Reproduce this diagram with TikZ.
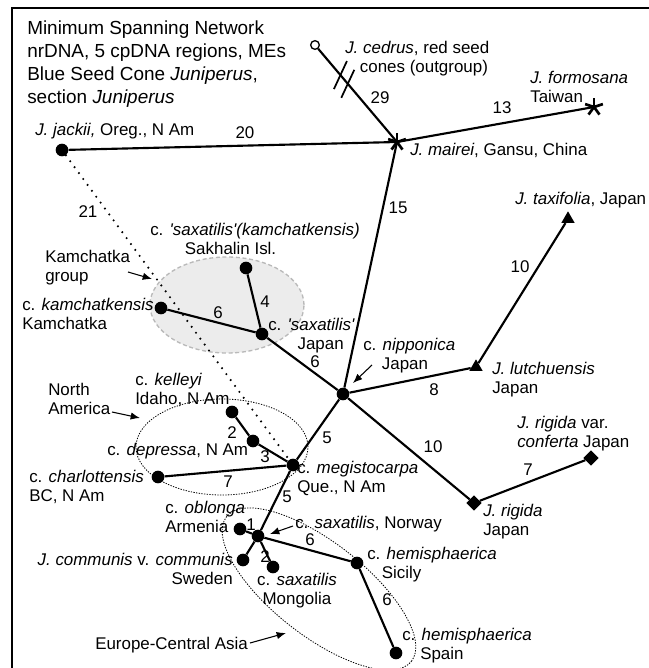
\documentclass[tikz,border=0pt]{standalone}
\usepackage{fontspec}
\setmainfont{Liberation Sans}
\usetikzlibrary{arrows.meta,shapes.geometric,calc}
\begin{document}
\begin{tikzpicture}[x=0.75pt,y=-0.75pt,
  lab/.style={font=\fontsize{12.7}{14.3}\selectfont, inner sep=0pt, align=left, anchor=north west},
  num/.style={font=\fontsize{12.7}{14.3}\selectfont, inner sep=0pt},
  dot/.style={circle, fill=black, inner sep=0pt, minimum size=9.5pt},
  odot/.style={circle, draw=black, fill=white, line width=1pt, inner sep=0pt, minimum size=6.5pt},
  tri/.style={regular polygon, regular polygon sides=3, fill=black, inner sep=0pt, minimum size=11.5pt},
  dmd/.style={diamond, fill=black, inner sep=0pt, minimum width=11.5pt, minimum height=11.5pt},
  pt0/.style={inner sep=0pt, minimum size=0pt},
  edge/.style={line width=1.6pt},
  dotline/.style={line width=1.8pt, line cap=round, dash pattern=on 0pt off 5.5pt},
  arr/.style={line width=0.8pt, -{Latex[length=7pt,width=5.5pt]}},
  grp/.style={line width=0.6pt, dash pattern=on 1pt off 1pt},
  astk/.pic={\foreach \a in {90,162,234,306,18} \draw[line width=2pt] (0,0) -- (\a:7pt);}
]
\useasboundingbox (0,0) rectangle (649,668);
\draw[line width=1.8pt] (12,668) -- (12,8) -- (649,8);

% group ellipses
\fill[gray!15] (227,305) ellipse [x radius=57.75pt, y radius=36pt];
\draw[gray!55, line width=1pt, dash pattern=on 3pt off 2pt] (227,305) ellipse [x radius=57.75pt, y radius=36pt];
\draw[grp] (222,447) ellipse [x radius=64.5pt, y radius=36pt];
\draw[grp, rotate around={-38:(319,589)}] (319,589) ellipse [x radius=88pt, y radius=35pt];

% taxa
\node[odot] (cedrus) at (315,45) {};
\node[pt0] (mairei) at (397,142) {};
\node[pt0] (formosana) at (594,107) {};
\node[dot] (jackii) at (62,150) {};
\node[dot] (sakhalin) at (246,268) {};
\node[dot] (saxjp) at (262,334) {};
\node[dot] (kamch) at (161,308) {};
\node[dot] (nippon) at (343,394) {};
\node[tri] (taxif) at (568,219) {};
\node[tri] (lutch) at (476,367) {};
\node[dmd] (rigida) at (474,503) {};
\node[dmd] (conferta) at (591,458) {};
\node[dot] (megist) at (293,465) {};
\node[dot] (kelleyi) at (232,412) {};
\node[dot] (depressa) at (253,441) {};
\node[dot] (charl) at (158,477) {};
\node[dot] (hub) at (258,536) {};
\node[dot] (oblonga) at (240,529) {};
\node[dot] (communis) at (243,560) {};
\node[dot] (mongolia) at (273,567) {};
\node[dot] (sicily) at (357,563) {};
\node[dot] (spain) at (396,653) {};

% connectors
\draw[dotline] (jackii) -- (megist);
\draw[edge] (cedrus) -- (mairei);
\draw[edge] (jackii) -- (mairei);
\draw[edge] (mairei) -- (formosana);
\draw[edge] (mairei) -- (nippon);
\draw[edge] (kamch) -- (saxjp);
\draw[edge] (sakhalin) -- (saxjp);
\draw[edge] (saxjp) -- (nippon);
\draw[edge] (nippon) -- (lutch);
\draw[edge] (lutch) -- (taxif);
\draw[edge] (nippon) -- (rigida);
\draw[edge] (rigida) -- (conferta);
\draw[edge] (nippon) -- (megist);
\draw[edge] (kelleyi) -- (depressa);
\draw[edge] (depressa) -- (megist);
\draw[edge] (charl) -- (megist);
\draw[edge] (megist) -- (hub);
\draw[edge] (oblonga) -- (hub);
\draw[edge] (communis) -- (hub);
\draw[edge] (mongolia) -- (hub);
\draw[edge] (hub) -- (sicily);
\draw[edge] (sicily) -- (spain);

% break marks on outgroup branch
\draw[line width=1.3pt] ($(cedrus)!0.31!(mairei)$) +(6.5,-14) -- +(-6.5,14);
\draw[line width=1.3pt] ($(cedrus)!0.40!(mairei)$) +(6.5,-14) -- +(-6.5,14);

\pic at (mairei) {astk};
\pic at (formosana) {astk};

% branch lengths
\node[num] (n29) at (380,98) {29};
\node[num] (n13) at (502,108) {13};
\node[num] (n20) at (245,133) {20};
\node[num] (n15) at (398,208) {15};
\node[num] (n21) at (88,212) {21};
\node[num] (n6a) at (218,313) {6};
\node[num] (n4) at (265,302) {4};
\node[num] (n6b) at (315,362) {6};
\node[num] (n10a) at (520,267) {10};
\node[num] (n8) at (434,390) {8};
\node[num] (n10b) at (433,447) {10};
\node[num] (n7a) at (528,470) {7};
\node[num] (n2a) at (232,433) {2};
\node[num] (n3) at (265,457) {3};
\node[num] (n5a) at (327,438) {5};
\node[num] (n7b) at (228,482) {7};
\node[num] (n5b) at (287,497) {5};
\node[num] (n1) at (251,525) {1};
\node[num] (n2b) at (265,557) {2};
\node[num] (n6c) at (310,540) {6};
\node[num] (n6d) at (387,600) {6};

% labels
\node[lab, font=\fontsize{14.2}{17.25}\selectfont] (title) at (27,21) {Minimum Spanning Network\\nrDNA, 5 cpDNA regions, MEs\\Blue Seed Cone \textit{Juniperus},\\section \textit{Juniperus}};
\node[lab] (lcedrus) at (345,41) {\textit{J. cedrus}, red seed\\\hspace*{11pt}cones (outgroup)};
\node[lab] (lformosana) at (530,71) {\textit{J. formosana}\\Taiwan};
\node[lab] (lmairei) at (410,143) {\textit{J. mairei}, Gansu, China};
\node[lab] (ljackii) at (35,123) {\textit{J. jackii,} Oreg., N Am};
\node[lab] (lkgroup) at (45,250) {Kamchatka\\group};
\node[lab] (lsakhalin) at (150,223) {c. \textit{\textquotesingle saxatilis\textquotesingle(kamchatkensis)}\\\hspace*{26pt}Sakhalin Isl.};
\node[lab] (lkamch) at (22,298) {c. \textit{kamchatkensis}\\Kamchatka};
\node[lab] (lsaxjp) at (268,318) {c. \textit{\textquotesingle saxatilis\textquotesingle}\\\hspace*{22pt}Japan};
\node[lab] (lnippon) at (363,338) {c. \textit{nipponica}\\\hspace*{14pt}Japan};
\node[lab] (ltaxif) at (515,192) {\textit{J. taxifolia}, Japan};
\node[lab] (llutch) at (492,362) {\textit{J. lutchuensis}\\Japan};
\node[lab] (lconferta) at (517,416) {\textit{J. rigida} var.\\\textit{conferta} Japan};
\node[lab] (lrigida) at (483,504) {\textit{J. rigida}\\Japan};
\node[lab] (lkelleyi) at (135,373) {c. \textit{kelleyi}\\Idaho, N Am};
\node[lab] (lnam) at (48,383) {North\\America};
\node[lab] (ldepressa) at (107,443) {c. \textit{depressa}, N Am};
\node[lab] (lcharl) at (29,470) {c. \textit{charlottensis}\\BC, N Am};
\node[lab] (lmegist) at (297,461) {c. \textit{megistocarpa}\\Que., N Am};
\node[lab] (loblonga) at (165,501) {c. \textit{oblonga}\\Armenia};
\node[lab] (lnorway) at (295,516) {c. \textit{saxatilis}, Norway};
\node[lab, anchor=north east, align=right] (lcommunis) at (233,553) {\textit{J. communis} v. \textit{communis}\\Sweden};
\node[lab, anchor=north, align=center] (lmongolia) at (297,573) {c. \textit{saxatilis}\\Mongolia};
\node[lab] (lsicily) at (367,547) {c. \textit{hemisphaerica}\\\hspace*{11pt}Sicily};
\node[lab] (lspain) at (402,628) {c. \textit{hemisphaerica}\\\hspace*{13.5pt}Spain};
\node[lab, anchor=west] (leurope) at (95,645) {Europe-Central Asia};

% pointer arrows
\coordinate (akg0) at (128,272); \coordinate (akg1) at (152,279);
\coordinate (ana0) at (112,412); \coordinate (ana1) at (140,418);
\coordinate (anp0) at (372,365); \coordinate (anp1) at (353,383);
\coordinate (ano0) at (293,526); \coordinate (ano1) at (270,534);
\coordinate (aeu0) at (250,643); \coordinate (aeu1) at (286,633);
\draw[arr] (akg0) -- (akg1);
\draw[arr] (ana0) -- (ana1);
\draw[arr] (anp0) -- (anp1);
\draw[arr] (ano0) -- (ano1);
\draw[arr] (aeu0) -- (aeu1);
\end{tikzpicture}
\end{document}
